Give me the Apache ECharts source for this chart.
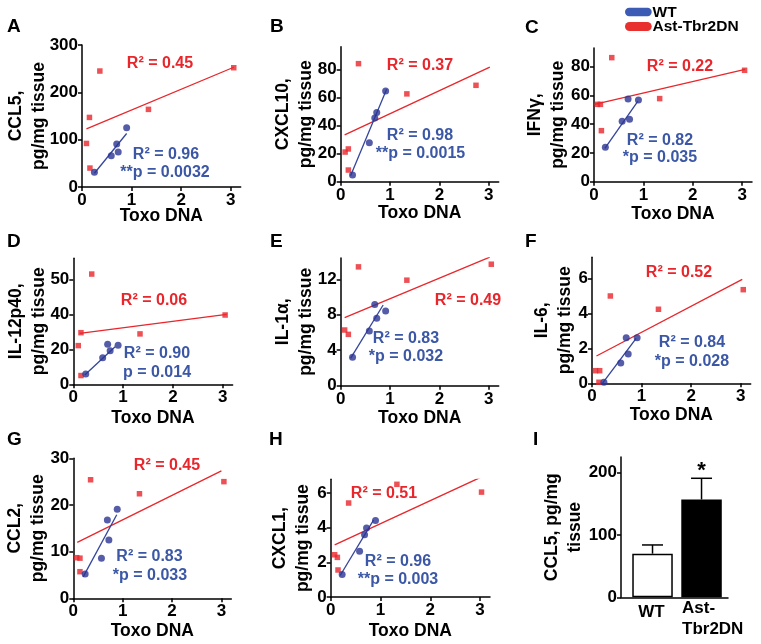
<!DOCTYPE html>
<html><head><meta charset="utf-8">
<script src="https://cdn.jsdelivr.net/npm/echarts@6/dist/echarts.min.js"></script>
<style>html,body{margin:0;padding:0;background:#fff}#c{width:761px;height:644px}</style>
</head><body><div id="c"></div>
<script>
// ---------- data ----------
const toxoTicks = [0, 1, 2, 3];

// A: CCL5
const ccl5WtX = [0.25, 0.59, 0.70, 0.73, 0.90];
const ccl5WtY = [31, 66, 91, 74, 125];
const ccl5TgX = [0.09, 0.15, 0.16, 0.36, 1.34, 3.06];
const ccl5TgY = [92, 147, 40, 245, 164, 252];
const ccl5RedFit = [[0.09, 122.6], [3.06, 253]];
const ccl5BlueFit = [[0.25, 29], [0.90, 113]];
const ccl5Ticks = [0, 100, 200, 300];

// B: CXCL10
const cxcl10WtX = [0.24, 0.58, 0.69, 0.73, 0.91];
const cxcl10WtY = [4.75, 27.8, 45.4, 49.2, 64.6];
const cxcl10TgX = [0.09, 0.155, 0.155, 0.36, 1.34, 2.74];
const cxcl10TgY = [21.1, 23.3, 8.3, 84, 62.5, 68.6];
const cxcl10RedFit = [[0.08, 33.3], [3.02, 81.5]];
const cxcl10BlueFit = [[0.20, 4.3], [0.93, 65.8]];
const cxcl10Ticks = [0, 20, 40, 60, 80];

// C: IFNγ
const ifngWtX = [0.23, 0.57, 0.69, 0.72, 0.90];
const ifngWtY = [23.9, 42, 57.5, 43.4, 56.8];
const ifngTgX = [0.07, 0.13, 0.15, 0.36, 1.33, 3.05];
const ifngTgY = [53.8, 53.8, 35.5, 86.3, 57.8, 77.5];
const ifngRedFit = [[0.01, 53.8], [3.06, 78.2]];
const ifngBlueFit = [[0.22, 23.2], [0.89, 56.1]];
const ifngTicks = [0, 20, 40, 60, 80];

// D: IL-12p40 (top tick is printed "50" in the reference)
const il12WtX = [0.25, 0.59, 0.69, 0.74, 0.90];
const il12WtY = [5.9, 15.2, 22.9, 19.2, 22.3];
const il12TgX = [0.10, 0.154, 0.154, 0.37, 1.34, 3.05];
const il12TgY = [22.1, 29.5, 5.0, 63, 28.8, 39.6];
const il12RedFit = [[0.13, 29.1], [3.08, 40]];
const il12BlueFit = [[0.23, 5.3], [0.84, 21.5]];
const il12Ticks = [0, 20, 40, 60];
const il12TickLabels = ['0', '20', '40', '50'];

// E: IL-1α
const il1aWtX = [0.24, 0.58, 0.69, 0.73, 0.91];
const il1aWtY = [3.2, 6.17, 9.17, 7.6, 8.42];
const il1aTgX = [0.08, 0.155, 0.36, 1.34, 3.05];
const il1aTgY = [6.28, 5.79, 13.4, 11.9, 13.7];
const il1aRedFit = [[0.08, 7.67], [3.02, 14.5]];
const il1aBlueFit = [[0.20, 3.08], [0.86, 9.1]];
const il1aTicks = [0, 4, 8, 12];

// F: IL-6
const il6WtX = [0.24, 0.58, 0.69, 0.73, 0.91];
const il6WtY = [0.06, 1.16, 2.61, 1.68, 2.61];
const il6TgX = [0.07, 0.155, 0.14, 0.37, 1.34, 3.05];
const il6TgY = [0.72, 0.72, 0.06, 4.99, 4.23, 5.35];
const il6RedFit = [[0.09, 1.56], [3.03, 5.94]];
const il6BlueFit = [[0.21, 0], [0.89, 2.57]];
const il6Ticks = [0, 2, 4, 6];

// G: CCL2
const ccl2WtX = [0.24, 0.57, 0.69, 0.72, 0.89];
const ccl2WtY = [5.2, 8.6, 16.8, 12.5, 19.1];
const ccl2TgX = [0.07, 0.135, 0.135, 0.35, 1.34, 3.05];
const ccl2TgY = [8.7, 8.6, 5.7, 25.4, 22.4, 25.0];
const ccl2RedFit = [[0.08, 12.0], [3.0, 27.3]];
const ccl2BlueFit = [[0.20, 4.6], [0.88, 17.9]];
const ccl2Ticks = [0, 10, 20, 30];

// H: CXCL1
const cxcl1WtX = [0.23, 0.58, 0.68, 0.72, 0.90];
const cxcl1WtY = [1.3, 2.65, 3.6, 3.98, 4.42];
const cxcl1TgX = [0.08, 0.134, 0.147, 0.36, 1.33, 3.03];
const cxcl1TgY = [2.44, 2.29, 1.56, 5.43, 6.51, 6.06];
const cxcl1RedFit = [[0.08, 3.01], [3.0, 6.9]];
const cxcl1BlueFit = [[0.19, 1.24], [0.86, 4.44]];
const cxcl1Ticks = [0, 2, 4, 6];

// I: CCL5 bar chart
const barCats = ['WT', 'Ast-\nTbr2DN'];
const barMeans = [70, 157];
const barUpper = [84, 191];
const barSig = ['', '*'];
const barTicks = [0, 100, 200];

// ---------- styling ----------
const FONT = "'Liberation Sans', Arial, Helvetica, sans-serif";
const RED = '#e8262b', NAVY = '#2b3492', BLUE_TXT = '#3b57a6', BLUE_LINE = '#34449c';

const zip = (a, b) => a.map((v, i) => [v, b[i]]);

const panels = [
  {letter:'A', lp:[7,27], name:'CCL5,\npg/mg tissue', wtX:ccl5WtX, wtY:ccl5WtY, tgX:ccl5TgX, tgY:ccl5TgY, rf:ccl5RedFit, bf:ccl5BlueFit, ticks:ccl5Ticks, yMax:300,
   grid:{left:82, top:45, width:158.7, height:142}, yGap:31, xGap:18,
   red:['R² = 0.45',160,64], b1:['R² = 0.96',166,155], b2:['**p = 0.0032',165,173]},
  {letter:'B', lp:[270,27], name:'CXCL10,\npg/mg tissue', wtX:cxcl10WtX, wtY:cxcl10WtY, tgX:cxcl10TgX, tgY:cxcl10TgY, rf:cxcl10RedFit, bf:cxcl10BlueFit, ticks:cxcl10Ticks, yMax:96,
   grid:{left:340.7, top:46.8, width:158, height:134.9}, yGap:23, xGap:20,
   red:['R² = 0.37',420,66], b1:['R² = 0.98',420,136], b2:['**p = 0.0015',420.5,154]},
  {letter:'C', lp:[525,28], name:'IFNγ,\npg/mg tissue', wtX:ifngWtX, wtY:ifngWtY, tgX:ifngTgX, tgY:ifngTgY, rf:ifngRedFit, bf:ifngBlueFit, ticks:ifngTicks, yMax:93,
   grid:{left:594, top:48, width:158, height:133.7}, yGap:24, xGap:21,
   red:['R² = 0.22',680,67], b1:['R² = 0.82',660,141], b2:['*p = 0.035',660,158]},
  {letter:'D', lp:[7,242], name:'IL-12p40,\npg/mg tissue', wtX:il12WtX, wtY:il12WtY, tgX:il12TgX, tgY:il12TgY, rf:il12RedFit, bf:il12BlueFit, ticks:il12Ticks, tickLabels:il12TickLabels, yMax:72,
   grid:{left:73.3, top:258.3, width:159.3, height:126}, yGap:23, xGap:22,
   red:['R² = 0.06',154,301], b1:['R² = 0.90',157,354], b2:['p = 0.014',157,373]},
  {letter:'E', lp:[270,242], name:'IL-1α,\npg/mg tissue', wtX:il1aWtX, wtY:il1aWtY, tgX:il1aTgX, tgY:il1aTgY, rf:il1aRedFit, bf:il1aBlueFit, ticks:il1aTicks, yMax:14.4,
   grid:{left:340.7, top:258, width:158, height:127.7}, yGap:23, xGap:21,
   red:['R² = 0.49',468,301], b1:['R² = 0.83',406,339], b2:['*p = 0.032',406,357]},
  {letter:'F', lp:[525,242], name:'IL-6,\npg/mg tissue', wtX:il6WtX, wtY:il6WtY, tgX:il6TgX, tgY:il6TgY, rf:il6RedFit, bf:il6BlueFit, ticks:il6Ticks, yMax:7.2,
   grid:{left:592, top:257.3, width:158.7, height:126}, yGap:15, xGap:20,
   red:['R² = 0.52',679,272.5], b1:['R² = 0.84',692,342.5], b2:['*p = 0.028',692,362]},
  {letter:'G', lp:[7,440], name:'CCL2,\npg/mg tissue', wtX:ccl2WtX, wtY:ccl2WtY, tgX:ccl2TgX, tgY:ccl2TgY, rf:ccl2RedFit, bf:ccl2BlueFit, ticks:ccl2Ticks, yMax:30,
   grid:{left:73.3, top:458.3, width:158, height:140}, yGap:24, xGap:21,
   red:['R² = 0.45',167,466], b1:['R² = 0.83',149.5,557], b2:['*p = 0.033',150,576]},
  {letter:'H', lp:[269,440], name:'CXCL1,\npg/mg tissue', wtX:cxcl1WtX, wtY:cxcl1WtY, tgX:cxcl1TgX, tgY:cxcl1TgY, rf:cxcl1RedFit, bf:cxcl1BlueFit, ticks:cxcl1Ticks, yMax:6.8,
   grid:{left:330.7, top:479.3, width:159.3, height:119}, yGap:16, xGap:23,
   red:['R² = 0.51',384,494], b1:['R² = 0.96',398,562], b2:['**p = 0.003',398,580]}
];

const axisLineStyle = {color:'#000', width:1.5};
const labelStyle = {color:'#000', fontFamily:FONT, fontWeight:'bold', fontSize:17};
const nameStyle = {color:'#000', fontFamily:FONT, fontWeight:'bold', fontSize:17.5, lineHeight:23};

const option = {animation:false, backgroundColor:'#fff', grid:[], xAxis:[], yAxis:[], series:[], graphic:[]};

function txt(t, x, y, color, size, align) {
  return {type:'text', x:x, y:y, style:{text:t, fill:color, font:'bold ' + size + 'px ' + FONT,
    textAlign:align || 'center', textVerticalAlign:'middle'}};
}

panels.forEach((p, i) => {
  option.grid.push(p.grid);
  option.xAxis.push({
    gridIndex:i, type:'value', min:0, max:3.2,
    name:'Toxo DNA', nameLocation:'middle', nameGap:p.xGap, nameMoveOverlap:false, nameTextStyle:nameStyle,
    axisLine:{onZero:false, lineStyle:axisLineStyle},
    axisTick:{customValues:toxoTicks, length:4, lineStyle:axisLineStyle},
    axisLabel:Object.assign({customValues:toxoTicks, margin:5}, labelStyle),
    splitLine:{show:false}
  });
  const tl = p.tickLabels;
  const tk = p.ticks;
  option.yAxis.push({
    gridIndex:i, type:'value', min:0, max:p.yMax,
    name:p.name, nameLocation:'middle', nameRotate:90, nameGap:p.yGap, nameMoveOverlap:false, nameTextStyle:nameStyle,
    axisLine:{show:true, onZero:false, lineStyle:axisLineStyle},
    axisTick:{show:true, customValues:tk, length:4, lineStyle:axisLineStyle},
    axisLabel:Object.assign({customValues:tk, margin:4,
      formatter: v => tl ? tl[tk.indexOf(v)] : String(v)}, labelStyle),
    splitLine:{show:false}
  });
  option.series.push(
    {type:'scatter', xAxisIndex:i, yAxisIndex:i, data:zip(p.tgX, p.tgY), symbol:'rect', symbolSize:5.5,
     itemStyle:{color:RED}, z:2},
    {type:'line', xAxisIndex:i, yAxisIndex:i, data:p.rf, symbol:'none', lineStyle:{color:RED, width:1.3}, z:3},
    {type:'line', xAxisIndex:i, yAxisIndex:i, data:p.bf, symbol:'none', lineStyle:{color:BLUE_LINE, width:1.3}, z:3},
    {type:'scatter', xAxisIndex:i, yAxisIndex:i, data:zip(p.wtX, p.wtY), symbol:'circle', symbolSize:7,
     itemStyle:{color:NAVY}, z:4}
  );
  option.graphic.push(txt(p.letter, p.lp[0], p.lp[1], '#000', 19, 'left'));
  option.graphic.push(txt(p.red[0], p.red[1], p.red[2], RED, 16));
  option.graphic.push(txt(p.b1[0], p.b1[1], p.b1[2], BLUE_TXT, 16));
  option.graphic.push(txt(p.b2[0], p.b2[1], p.b2[2], BLUE_TXT, 16));
});

// Panel I: bar chart
const gi = panels.length;
option.grid.push({left:621, top:457.1, width:107, height:140.2});
option.xAxis.push({gridIndex:gi, type:'value', min:-0.643, max:1.54,
  axisLine:{onZero:false, lineStyle:axisLineStyle}, axisTick:{show:false}, axisLabel:{show:false}, splitLine:{show:false}});
option.yAxis.push({gridIndex:gi, type:'value', min:0, max:225,
  name:'CCL5, pg/mg\ntissue', nameLocation:'middle', nameRotate:90, nameGap:34, nameMoveOverlap:false, nameTextStyle:nameStyle,
  axisLine:{show:true, onZero:false, lineStyle:axisLineStyle},
  axisTick:{show:true, customValues:barTicks, length:4, lineStyle:axisLineStyle},
  axisLabel:Object.assign({customValues:barTicks, margin:4}, labelStyle),
  splitLine:{show:false}});
option.series.push({
  type:'bar', xAxisIndex:gi, yAxisIndex:gi, barWidth:40.5,
  data:barMeans.map((v, k) => ({value:[k, v],
    itemStyle:{color: k === 0 ? '#fff' : '#000', borderColor:'#000', borderWidth:1.5}})),
  z:2
});
option.series.push({
  type:'custom', xAxisIndex:gi, yAxisIndex:gi, z:1,
  data:barMeans.map((v, k) => [k, v, barUpper[k]]),
  renderItem:(params, api) => {
    const k = api.value(0);
    const base = api.coord([k, api.value(1)]);
    const top = api.coord([k, api.value(2)]);
    const hw = 10.5;
    const children = [
      {type:'line', shape:{x1:base[0], y1:base[1], x2:top[0], y2:top[1]}, style:{stroke:'#000', lineWidth:1.5}},
      {type:'line', shape:{x1:top[0]-hw, y1:top[1], x2:top[0]+hw, y2:top[1]}, style:{stroke:'#000', lineWidth:1.5}}
    ];
    if (barSig[k]) children.push({type:'text', x:top[0], y:top[1]-7,
      style:{text:barSig[k], fill:'#000', font:'bold 22px ' + FONT, textAlign:'center', textVerticalAlign:'middle'}});
    return {type:'group', children:children};
  }
});
// category labels under bars
option.graphic.push(txt(barCats[0], 651.5, 612, '#000', 17));
option.graphic.push({type:'text', x:682, y:598, style:{text:barCats[1], fill:'#000', font:'bold 17px ' + FONT,
  textAlign:'left', textVerticalAlign:'top', lineHeight:21}});
option.graphic.push(txt('I', 533, 440, '#000', 19, 'left'));

// legend (top right)
option.graphic.push({type:'rect', shape:{x:625, y:7.7, width:26.7, height:8.5, r:4.2}, style:{fill:'#3b5bb5'}});
option.graphic.push({type:'rect', shape:{x:625, y:22, width:26.7, height:9, r:4.5}, style:{fill:'#e8312f'}});
option.graphic.push(txt('WT', 652.5, 12.5, '#000', 15.5, 'left'));
option.graphic.push(txt('Ast-Tbr2DN', 652.5, 27, '#000', 15.5, 'left'));

const chart = echarts.init(document.getElementById('c'), null, {renderer:'canvas'});
chart.setOption(option);
</script>
</body></html>
